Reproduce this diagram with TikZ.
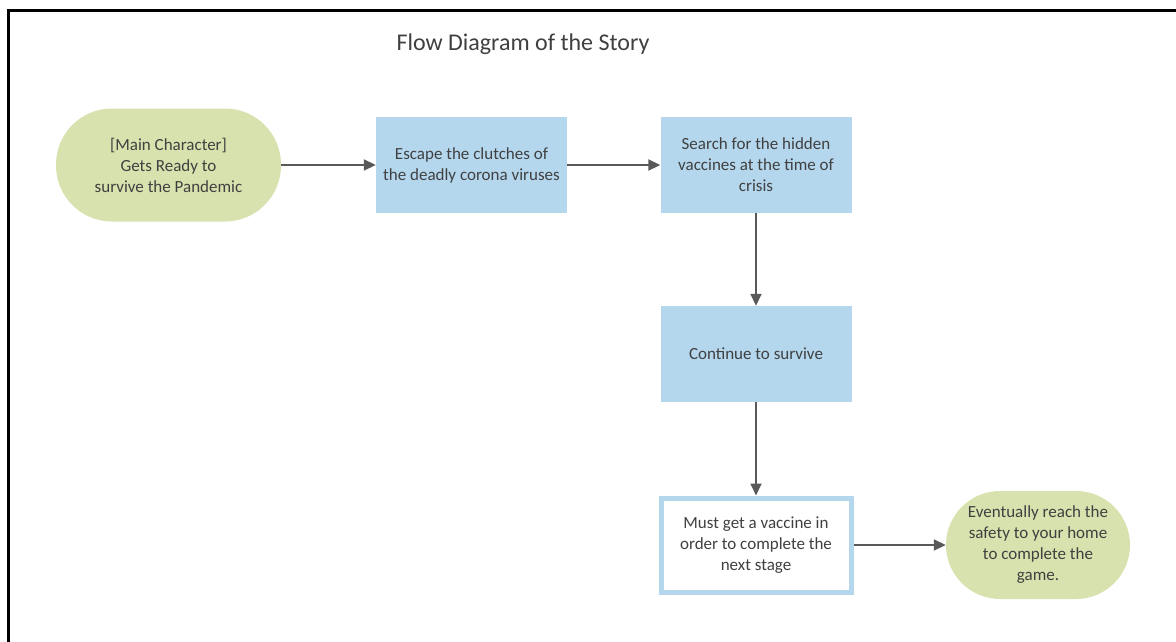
\documentclass[tikz,border=0pt]{standalone}
\usepackage{fontspec}
\setmainfont{Carlito}
\usetikzlibrary{arrows.meta}
\definecolor{txt}{HTML}{404040}
\definecolor{arr}{HTML}{595959}
\definecolor{termfill}{HTML}{D8E2AE}
\definecolor{boxfill}{HTML}{B4D7EE}
\tikzset{
  base/.style={align=center, text=txt, font=\fontsize{17}{21}\selectfont, inner sep=0pt},
  terminal/.style={base, fill=termfill, rounded corners=#1},
  procbox/.style={base, fill=boxfill, minimum width=191pt, minimum height=96pt},
  keybox/.style={base, fill=white, draw=boxfill, line width=5pt, minimum width=190pt, minimum height=94pt},
  flow/.style={draw=arr, line width=1.8pt, -{Triangle[length=12pt,width=11pt]}},
}
\begin{document}
\begin{tikzpicture}[x=1pt,y=-1pt]
\useasboundingbox (0,0) rectangle (1176,642);
\fill[white] (0,0) rectangle (1176,642);
\coordinate (fa) at (8.5,642);
\coordinate (fb) at (8.5,10.5);
\coordinate (fc) at (1176,10.5);
\draw[black, line width=2.5pt] (fa) -- (fb) -- (fc);
\node[base, font=\fontsize{24}{29}\selectfont] (title) at (523,44) {Flow Diagram of the Story};
\node[terminal=56pt, minimum width=225pt, minimum height=113pt] (start) at (168.5,165)
  {[Main Character]\\Gets Ready to\\survive the Pandemic};
\node[procbox] (esc) at (471.5,165) {Escape the clutches of\\the deadly corona viruses};
\node[procbox] (search) at (756,165) {Search for the hidden\\vaccines at the time of\\crisis};
\node[procbox] (cont) at (756,354) {Continue to survive};
\node[keybox] (must) at (756,545) {Must get a vaccine in\\order to complete the\\next stage};
\node[terminal=54pt, minimum width=184pt, minimum height=108pt] (finish) at (1038,545)
  {Eventually reach the\\safety to your home\\to complete the\\game.};
\draw[flow] (start.east) -- (esc.west);
\draw[flow] (esc.east) -- (search.west);
\draw[flow] (search.south) -- (cont.north);
\draw[flow] (cont.south) -- (must.north);
\draw[flow] (must.east) -- (finish.west);
\end{tikzpicture}
\end{document}
